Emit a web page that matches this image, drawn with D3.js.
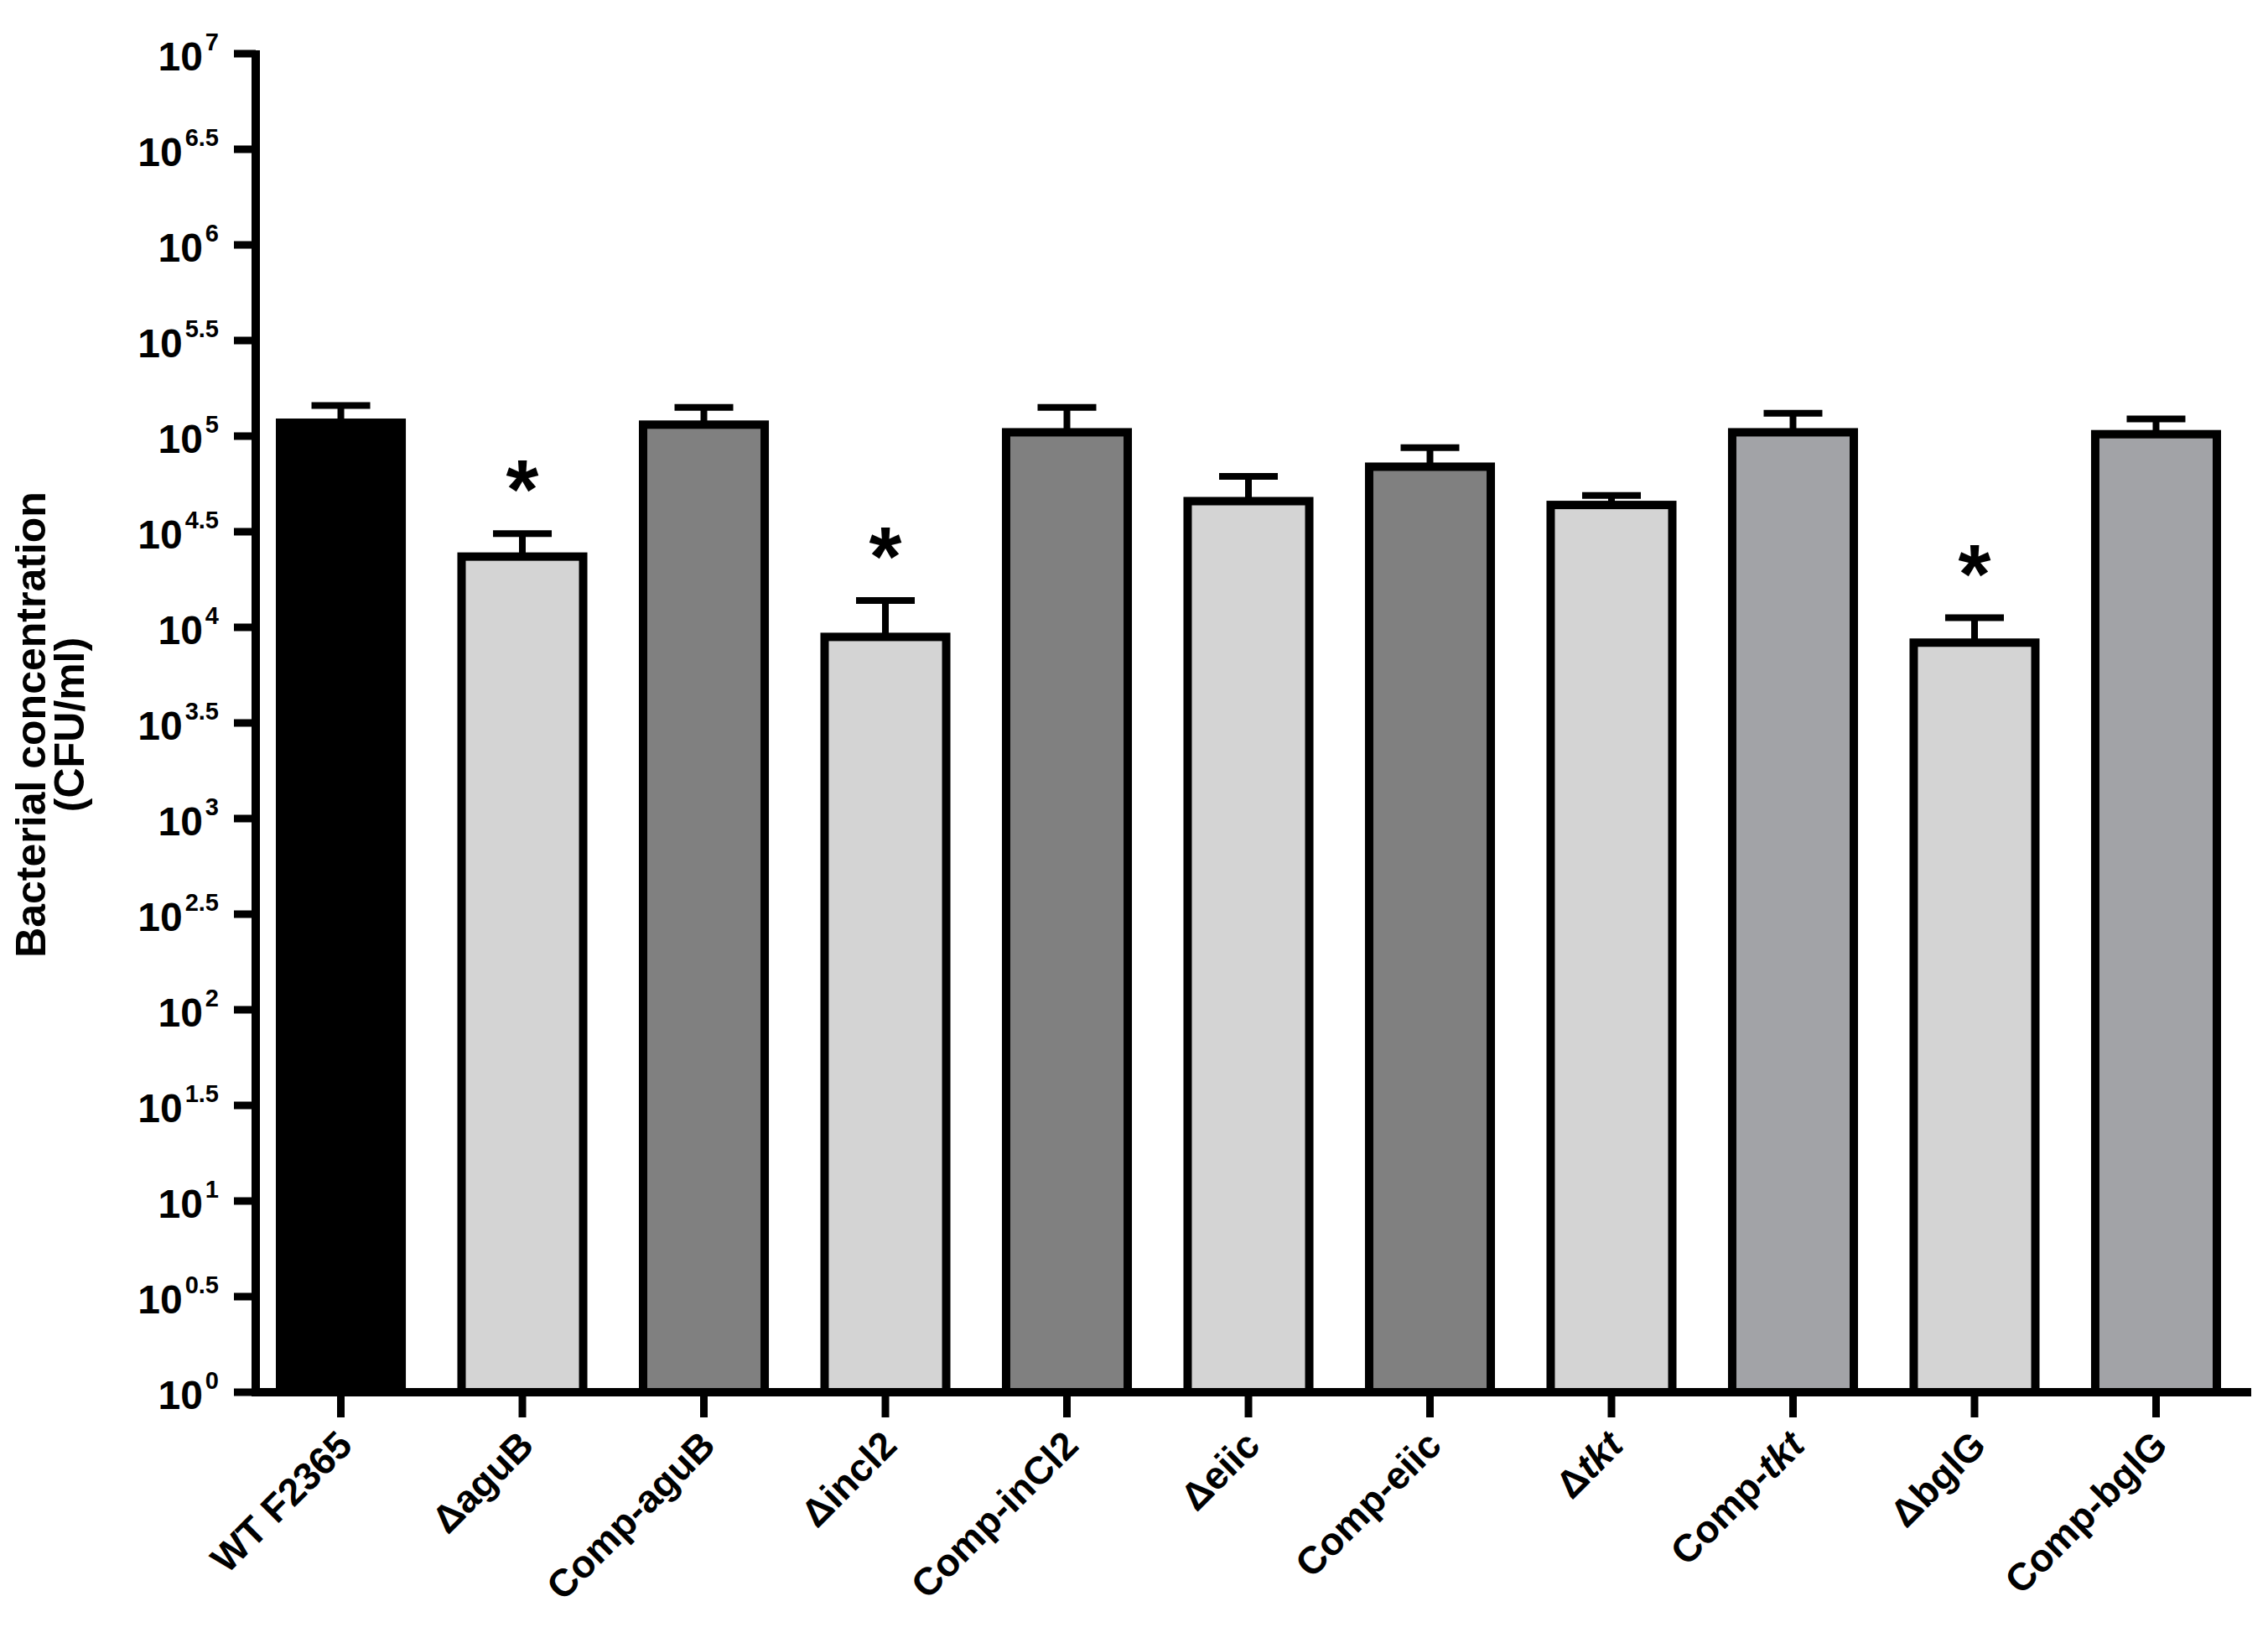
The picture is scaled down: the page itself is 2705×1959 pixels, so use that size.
<!DOCTYPE html>
<html><head><meta charset="utf-8">
<script src="https://cdn.jsdelivr.net/npm/d3@7"></script>
<style>body{margin:0;background:#fff}text{font-family:"Liberation Sans",Arial,sans-serif;font-weight:bold}</style>
</head><body><svg id="c" width="2705" height="1959"></svg>
<script>
const categories=["WT F2365","ΔaguB","Comp-aguB","Δincl2","Comp-inCl2","Δeiic","Comp-eiic","Δtkt","Comp-tkt","ΔbglG","Comp-bglG"];
const values=[5.07,4.37,5.06,3.95,5.02,4.66,4.84,4.64,5.02,3.92,5.01];
const errTop=[5.16,4.49,5.15,4.14,5.15,4.79,4.94,4.69,5.12,4.05,5.09];
const colors=["#000000","#d4d4d4","#808080","#d4d4d4","#808080","#d4d4d4","#808080","#d4d4d4","#a2a3a7","#d4d4d4","#a2a3a7"];
const stars=[false,true,false,true,false,false,false,false,false,true,false];
const yTicks=[0,0.5,1,1.5,2,2.5,3,3.5,4,4.5,5,5.5,6,6.5,7];

const svg=d3.select("#c");
const axX=305, y0=1660, y1=64, step=210;
const x=d3.scaleBand().domain(categories).range([439-step/2,439-step/2+step*11]).paddingInner(0.33).paddingOuter(0);
const y=d3.scaleLinear().domain([0,7]).range([y0,y1]);
const bw=x.bandwidth();
const g=svg.append("g");
categories.forEach((c,i)=>{
  const cx=x(c)+bw/2;
  g.append("line").attr("x1",cx).attr("x2",cx).attr("y1",y(values[i])).attr("y2",y(errTop[i])).attr("stroke","#000").attr("stroke-width",8);
  g.append("line").attr("x1",cx-35).attr("x2",cx+35).attr("y1",y(errTop[i])).attr("y2",y(errTop[i])).attr("stroke","#000").attr("stroke-width",8);
  g.append("rect").attr("x",x(c)).attr("y",y(values[i])).attr("width",bw).attr("height",y0-y(values[i]))
   .attr("fill",colors[i]).attr("stroke","#000").attr("stroke-width",10);
  if(stars[i]) g.append("text").attr("x",cx).attr("y",y(errTop[i])-18).attr("text-anchor","middle").attr("font-size",100).text("*");
});
const ya=svg.append("g");
ya.append("line").attr("x1",axX).attr("x2",axX).attr("y1",y1-4).attr("y2",y0+5).attr("stroke","#000").attr("stroke-width",10);
yTicks.forEach(t=>{
  ya.append("line").attr("x1",axX-26).attr("x2",axX).attr("y1",y(t)).attr("y2",y(t)).attr("stroke","#000").attr("stroke-width",9);
  const tx=ya.append("text").attr("x",axX-44).attr("y",y(t)+20).attr("text-anchor","end").attr("font-size",48);
  tx.append("tspan").text("10");
  tx.append("tspan").attr("font-size",29).attr("dx",3).attr("dy",-24).text(String(t));
});
svg.append("line").attr("x1",axX-5).attr("x2",2685).attr("y1",y0).attr("y2",y0).attr("stroke","#000").attr("stroke-width",10);
categories.forEach((c,i)=>{
  const cx=x(c)+bw/2;
  svg.append("line").attr("x1",cx).attr("x2",cx).attr("y1",y0).attr("y2",y0+30).attr("stroke","#000").attr("stroke-width",9);
  const t=svg.append("text").attr("transform",`translate(${cx+16},${y0+66}) rotate(-45)`).attr("text-anchor","end").attr("font-size",46);
  if(c.startsWith("Δ")){t.append("tspan").text("Δ");const rest=c.slice(1);const tp=t.append("tspan").text(rest);if(rest==="tkt")tp.attr("font-style","italic");}
  else if(c==="Comp-tkt"){t.append("tspan").text("Comp-");t.append("tspan").attr("font-style","italic").text("tkt");}
  else t.text(c);
});
const yt=svg.append("text").attr("transform",`translate(0,${(y0+y1)/2+2}) rotate(-90)`).attr("text-anchor","middle").attr("font-size",50);
yt.append("tspan").attr("x",0).attr("y",54).text("Bacterial concentration");
yt.append("tspan").attr("x",0).attr("y",100).text("(CFU/ml)");
</script></body></html>
